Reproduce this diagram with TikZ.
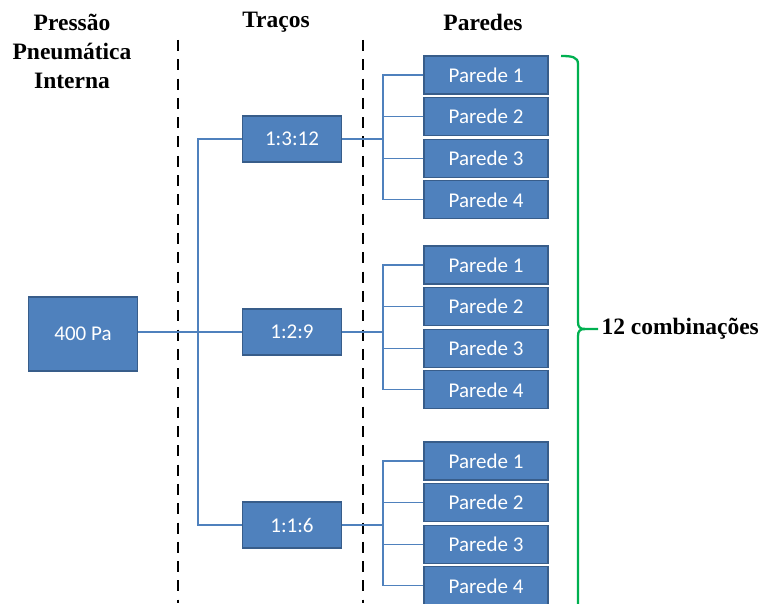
\documentclass[tikz,border=0pt]{standalone}
\usepackage{fontspec}
\setmainfont{Carlito}
\newfontfamily\headfont{Liberation Serif}
\usetikzlibrary{positioning}
\definecolor{boxfill}{HTML}{4F81BD}
\definecolor{boxborder}{HTML}{385D8A}
\definecolor{bracegreen}{HTML}{00B050}
\tikzset {
  % blue boxes
  box/.style = {
    draw = boxborder,
    fill = boxfill,
    line width = 1.3pt,
    text = white,
    inner sep = 0,
    font = \fontsize{21}{25}\selectfont
  },
  pressure/.style = {
    box,
    minimum width = 109pt,
    minimum height = 74pt
  },
  mix/.style = {
    box,
    minimum width = 99pt,
    minimum height = 46pt
  },
  wall/.style = {
    box,
    minimum width = 124pt,
    minimum height = 38pt
  },
  % column titles
  title/.style = {
    align = center,
    font = \headfont\bfseries\fontsize{23.5}{29}\selectfont
  },
  link/.style = {
    draw = boxfill,
    line width = 1.1pt
  },
  divider/.style = {
    draw = black,
    line width = 2.5pt,
    dash pattern = on 11pt off 8.3pt
  },
  brace/.style = {
    draw = bracegreen,
    line width = 2.3pt
  },
  node distance = 2.3pt
}
\begin{document}
\begin{tikzpicture}[x=1pt, y=1pt]
    \clip (0,0) rectangle (765,603);

    \node[title] (head-press) at (72,552) {Pressão\\Pneumática\\Interna};
    \node[title] (head-mix) at (276,581) {Traços};
    \node[title] (head-wall) at (483,581) {Paredes};

    \draw[divider] (178,563) -- (178,0);
    \draw[divider] (363,563) -- (363,0);

    \node[pressure] (press) at (83,269) {400 Pa};
    \node[mix] (mix1) at (292,464) {1:3:12};
    \node[mix] (mix2) at (292,271) {1:2:9};
    \node[mix] (mix3) at (292,78) {1:1:6};

    \node[wall] (wall11) at (486,528) {Parede 1};
    \node[wall] (wall12) [below=of wall11] {Parede 2};
    \node[wall] (wall13) [below=of wall12] {Parede 3};
    \node[wall] (wall14) [below=of wall13] {Parede 4};
    \node[wall] (wall21) at (486,338) {Parede 1};
    \node[wall] (wall22) [below=of wall21] {Parede 2};
    \node[wall] (wall23) [below=of wall22] {Parede 3};
    \node[wall] (wall24) [below=of wall23] {Parede 4};
    \node[wall] (wall31) at (486,142) {Parede 1};
    \node[wall] (wall32) [below=of wall31] {Parede 2};
    \node[wall] (wall33) [below=of wall32] {Parede 3};
    \node[wall] (wall34) [below=of wall33] {Parede 4};

    \coordinate (split) at (198,271);
    \coordinate (fork1) at (383,464);
    \coordinate (fork2) at (383,271);
    \coordinate (fork3) at (383,78);

    \draw[link] (press.east |- mix2) -- (mix2);
    \draw[link] (mix1.west) -| (split) |- (mix3.west);

    \draw[link] (mix1) -- (fork1);
    \draw[link] (wall11.west) -| (fork1) |- (wall14.west);
    \draw[link] (wall12.west) -- (wall12.west -| fork1);
    \draw[link] (wall13.west) -- (wall13.west -| fork1);
    \draw[link] (mix2) -- (fork2);
    \draw[link] (wall21.west) -| (fork2) |- (wall24.west);
    \draw[link] (wall22.west) -- (wall22.west -| fork2);
    \draw[link] (wall23.west) -- (wall23.west -| fork2);
    \draw[link] (mix3) -- (fork3);
    \draw[link] (wall31.west) -| (fork3) |- (wall34.west);
    \draw[link] (wall32.west) -- (wall32.west -| fork3);
    \draw[link] (wall33.west) -- (wall33.west -| fork3);

    \node[title, anchor = west] (count) at (598,274) {12 combinações};
    \coordinate (brace-top) at (561,547);
    \coordinate (brace-bottom) at (578,-40);
    \draw[brace] (brace-top) .. controls (572,547) and (578,546) .. (578,539)
      -- (578,281) .. controls (578,276) and (580,274) .. (585,274) -- (count.west);
    \draw[brace] (585,274) .. controls (580,274) and (578,272) .. (578,267)
      -- (brace-bottom);
  \end{tikzpicture}
\end{document}
